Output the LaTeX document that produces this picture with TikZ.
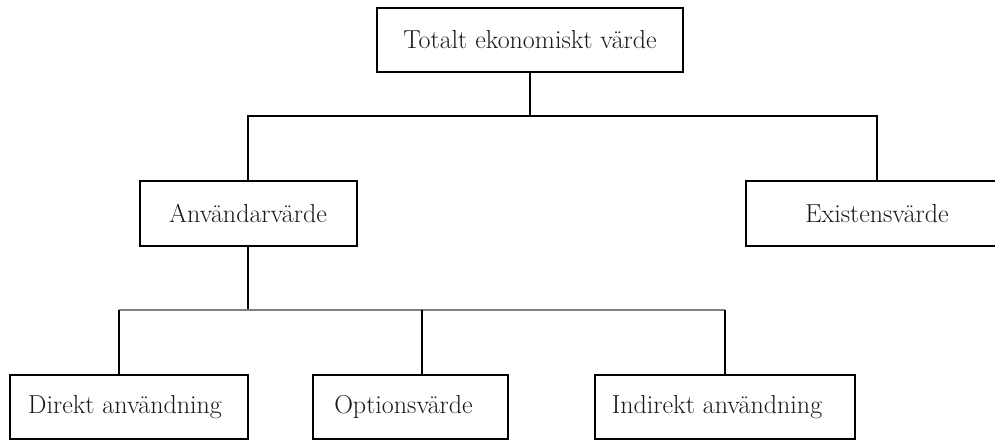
\documentclass[tikz,border=0pt]{standalone}
\begin{document}
\begin{tikzpicture}[x=1pt,y=-1pt,
  box/.style={draw=black,line width=2pt,fill=white,inner sep=0pt,
    font=\fontsize{26}{31}\selectfont,text=black!90},
  link/.style={draw=black,line width=1.8pt},
  thin/.style={draw=black!50,line width=1.6pt}]
\useasboundingbox (0,0) rectangle (995,441);
% nodes
\node[box,minimum width=306pt,minimum height=64pt] (tot) at (530,40) {Totalt ekonomiskt värde};
\node[box,minimum width=217pt,minimum height=65pt] (anv) at (248,213.5) {Användarvärde};
\node[box,minimum width=262pt,minimum height=65pt] (exi) at (877,213.5) {Existensvärde};
\node[box,minimum width=238pt,minimum height=64pt] (dir) at (129,407) {Direkt användning\hspace*{8pt}};
\node[box,minimum width=195pt,minimum height=64pt] (opt) at (410.5,407) {Optionsvärde\hspace*{14pt}};
\node[box,minimum width=260pt,minimum height=64pt] (ind) at (725,407) {Indirekt användning\hspace*{16pt}};
% bus coordinates
\coordinate (b1) at (530,116);
\coordinate (b1l) at (248,116);
\coordinate (b1r) at (877,116);
\coordinate (b2) at (248,310);
\coordinate (b2l) at (119,310);
\coordinate (b2m) at (422,310);
\coordinate (b2r) at (725,310);
% connectors
\draw[link] (tot.south) -- (b1);
\draw[link,line cap=rect] (b1l) -- (b1r);
\draw[link] (b1l) -- (anv.north);
\draw[link] (b1r) -- (exi.north);
\draw[link,line width=1.4pt] (anv.south) -- (b2);
\draw[thin] (b2l) -- (b2r);
\draw[link] (b2l) -- (b2l |- dir.north);
\draw[link] (b2m) -- (b2m |- opt.north);
\draw[link] (b2r) -- (ind.north);
\end{tikzpicture}
\end{document}
